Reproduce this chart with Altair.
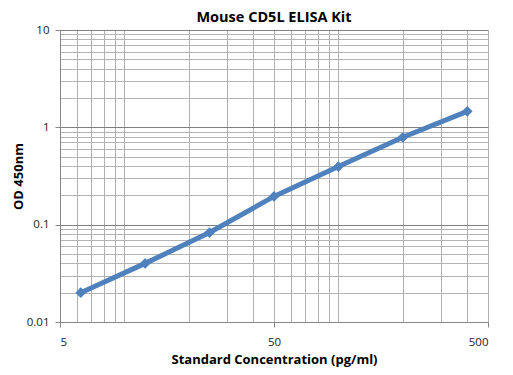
import altair as alt
import pandas as pd

conc = [6.25, 12.5, 25, 50, 100, 200, 400]
od = [0.020, 0.040, 0.083, 0.195, 0.395, 0.79, 1.46]

x_grid = [6, 7, 8, 9, 10, 20, 30, 40, 50, 60, 70, 80, 90, 100, 200, 300, 400, 500]
y_grid = [0.02, 0.03, 0.04, 0.05, 0.06, 0.07, 0.08, 0.09,
          0.2, 0.3, 0.4, 0.5, 0.6, 0.7, 0.8, 0.9,
          2, 3, 4, 5, 6, 7, 8, 9]
x_major = [5, 50, 500]
y_major = [0.01, 0.1, 1, 10]

df = pd.DataFrame({"conc": conc, "od": od})

xs = alt.Scale(type="log", domain=[5, 500], nice=False)
ys = alt.Scale(type="log", domain=[0.01, 10], nice=False)

grid = alt.Chart(df).mark_point(opacity=0).encode(
    x=alt.X("conc:Q", scale=xs, axis=alt.Axis(values=x_grid, labels=False, ticks=False, domain=False,
                                             grid=True, gridColor="#b0b0b0", title=None, orient="bottom")),
    y=alt.Y("od:Q", scale=ys, axis=alt.Axis(values=y_grid, labels=False, ticks=False, domain=False,
                                           grid=True, gridColor="#b4b4b4", title=None, orient="left")),
)

main = alt.Chart(df).mark_line(
    color="#4F81BD", strokeWidth=5,
    point=alt.OverlayMarkDef(shape="diamond", size=115, filled=True, color="#4F81BD", opacity=1),
).encode(
    x=alt.X("conc:Q", scale=xs, axis=alt.Axis(values=x_major, format="~g", grid=False, orient="bottom",
                                             title="Standard Concentration (pg/ml)", tickSize=5,
                                             labelPadding=9, titlePadding=6)),
    y=alt.Y("od:Q", scale=ys, axis=alt.Axis(values=y_major, format="~g", grid=True, gridColor="#808080",
                                           orient="left", title="OD 450nm", tickSize=5,
                                           labelPadding=6, titlePadding=1)),
)

chart = alt.layer(grid, main).resolve_axis(x="independent", y="independent").properties(
    width=428, height=292,
    title=alt.TitleParams("Mouse CD5L ELISA Kit", font="Open Sans", fontSize=14.5, fontWeight="bold",
                          color="#000000", offset=-1),
    autosize="none",
    padding={"left": 52, "top": 22, "right": 17, "bottom": 45},
).configure_axis(
    labelFont="Open Sans", labelFontSize=11.5, labelColor="#222222",
    titleFont="Open Sans", titleFontSize=13, titleFontWeight="bold", titleColor="#000000",
    domainColor="#888888", tickColor="#888888",
).configure_view(stroke=None)

chart.save("out.html", embed_options={"renderer": "svg", "actions": False})
